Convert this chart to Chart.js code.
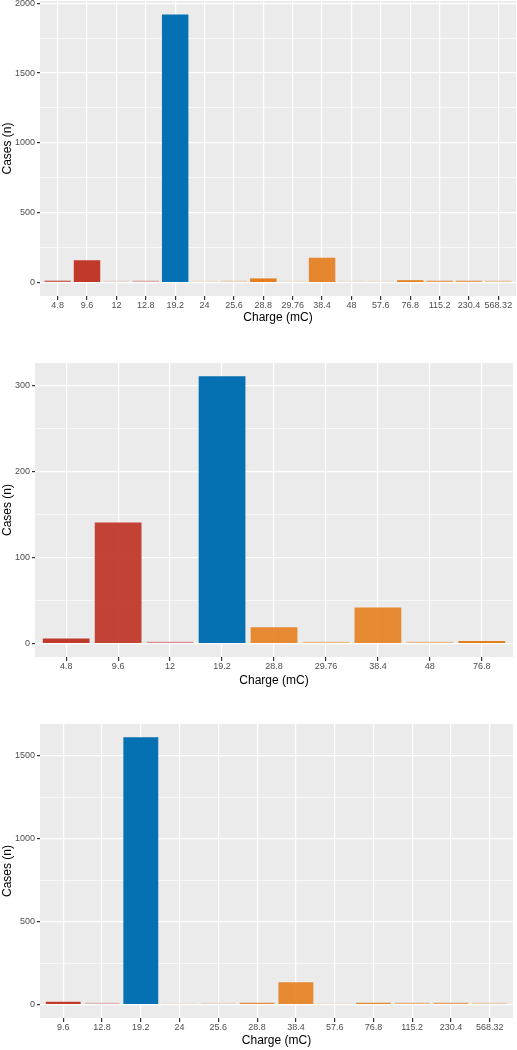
<!DOCTYPE html>
<html>
<head>
<meta charset="utf-8">
<title>Cases by charge</title>
<script src="https://cdn.jsdelivr.net/npm/chart.js@4/dist/chart.umd.min.js"></script>
<style>
    html, body { margin: 0; padding: 0; background: #fff; }
    body { width: 517px; height: 1050px; position: relative; overflow: hidden; }
    canvas { position: absolute; left: 0; }
</style>
</head>
<body>
<canvas id="chartTop" width="517" height="325" style="top:0"></canvas>
<canvas id="chartMid" width="517" height="326" style="top:362px"></canvas>
<canvas id="chartBottom" width="517" height="325" style="top:723px"></canvas>

<script>
// --- donnees ---
const chargesTop = ['4.8', '9.6', '12', '12.8', '19.2', '24', '25.6', '28.8', '29.76', '38.4', '48', '57.6', '76.8', '115.2', '230.4', '568.32'];
const casesTop = [10, 160, 2, 7, 1920, 2, 6, 30, 2, 178, 2, 2, 17, 9, 9, 5];
const yTicksTop = [0, 500, 1000, 1500, 2000];

const chargesMid = ['4.8', '9.6', '12', '19.2', '28.8', '29.76', '38.4', '48', '76.8'];
const casesMid = [6, 141, 2, 311, 19, 2, 42, 2, 3];
const yTicksMid = [0, 100, 200, 300];

const chargesBottom = ['9.6', '12.8', '19.2', '24', '25.6', '28.8', '38.4', '57.6', '76.8', '115.2', '230.4', '568.32'];
const casesBottom = [18, 7, 1610, 2, 4, 12, 135, 2, 12, 6, 6, 4];
const yTicksBottom = [0, 500, 1000, 1500];

// intensite de la couleur de chaque barre
const shadeTop = [0.75, 1, 0.12, 0.35, 1, 0.1, 0.25, 1, 0.1, 0.92, 0.1, 0.1, 1, 0.65, 0.65, 0.35];
const shadeMid = [1, 0.95, 0.5, 1, 0.9, 0.45, 0.9, 0.45, 1];
const shadeBottom = [1, 0.3, 1, 0.1, 0.2, 0.85, 0.9, 0.1, 0.9, 0.55, 0.7, 0.3];

const FONT = '"Liberation Sans", Arial, sans-serif';
const RED = [192, 57, 43];
const BLUE = [5, 112, 178];
const ORANGE = [228, 126, 30];

// fond gris facon ggplot
const panelBackground = {
    id: 'panelBackground',
    beforeDraw(chart) {
        const { ctx, chartArea: a } = chart;
        ctx.save();
        ctx.fillStyle = '#EBEBEB';
        ctx.fillRect(a.left, a.top, a.right - a.left, a.bottom - a.top);
        ctx.restore();
    }
};

function barColor(charge, shade) {
    const v = parseFloat(charge);
    const base = v < 19.2 ? RED : (v === 19.2 ? BLUE : ORANGE);
    return `rgba(${base[0]}, ${base[1]}, ${base[2]}, ${shade})`;
}

function buildChart(id, charges, cases, shades, majorTicks, layout) {
    const step = majorTicks[1] - majorTicks[0];
    const maxCases = Math.max(...cases);
    const isMajor = v => majorTicks.includes(v);

    return new Chart(document.getElementById(id), {
        type: 'bar',
        data: {
            datasets: [{
                data: cases.map((n, i) => ({ x: i + 1, y: n })),
                backgroundColor: charges.map((c, i) => barColor(c, shades[i])),
                borderWidth: 0,
                barPercentage: 0.9,
                categoryPercentage: 1,
                minBarLength: 2
            }]
        },
        options: {
            responsive: false,
            animation: false,
            layout: { padding: { top: 1, right: layout.right, left: 0, bottom: 0 } },
            plugins: { legend: { display: false }, tooltip: { enabled: false } },
            scales: {
                x: {
                    type: 'linear',
                    offset: false,
                    min: 0.4,
                    max: charges.length + 0.6,
                    afterBuildTicks: scale => {
                        scale.ticks = charges.map((c, i) => ({ value: i + 1 }));
                    },
                    afterFit: scale => {
                        scale.height = layout.xHeight;
                        scale.paddingLeft = 0;
                        scale.paddingRight = 0;
                    },
                    border: { display: false },
                    grid: { offset: false, color: '#FFFFFF', lineWidth: 1.2, tickColor: '#333333', tickLength: 4 },
                    ticks: {
                        autoSkip: false,
                        maxRotation: 0,
                        padding: 0,
                        color: '#4D4D4D',
                        font: { family: FONT, size: 9 },
                        callback: (v, i) => charges[i]
                    },
                    title: {
                        display: true,
                        text: 'Charge (mC)',
                        color: '#000',
                        padding: 0,
                        font: { family: FONT, size: 12 }
                    }
                },
                y: {
                    min: -maxCases * 0.05,
                    max: maxCases * 1.05,
                    afterBuildTicks: scale => {
                        const ticks = [];
                        for (let v = 0; v <= scale.max; v += step / 2) ticks.push({ value: v });
                        scale.ticks = ticks;
                    },
                    afterFit: scale => {
                        scale.width = layout.yWidth;
                        scale.paddingTop = 0;
                        scale.paddingBottom = 0;
                    },
                    border: { display: false },
                    grid: {
                        color: '#FFFFFF',
                        lineWidth: c => isMajor(c.tick.value) ? 1.2 : 0.6,
                        tickColor: c => isMajor(c.tick.value) ? '#333333' : 'rgba(0,0,0,0)',
                        tickLength: 3
                    },
                    ticks: {
                        padding: 2,
                        color: '#4D4D4D',
                        font: { family: FONT, size: 9 },
                        callback: v => isMajor(v) ? String(v) : ''
                    },
                    title: {
                        display: true,
                        text: 'Cases (n)',
                        color: '#000',
                        padding: 0,
                        font: { family: FONT, size: 12 }
                    }
                }
            }
        },
        plugins: [panelBackground]
    });
}

buildChart('chartTop', chargesTop, casesTop, shadeTop, yTicksTop, { right: 1, yWidth: 40, xHeight: 29 });
buildChart('chartMid', chargesMid, casesMid, shadeMid, yTicksMid, { right: 4, yWidth: 35, xHeight: 31 });
buildChart('chartBottom', chargesBottom, casesBottom, shadeBottom, yTicksBottom, { right: 4, yWidth: 40, xHeight: 30 });
</script>
</body>
</html>
